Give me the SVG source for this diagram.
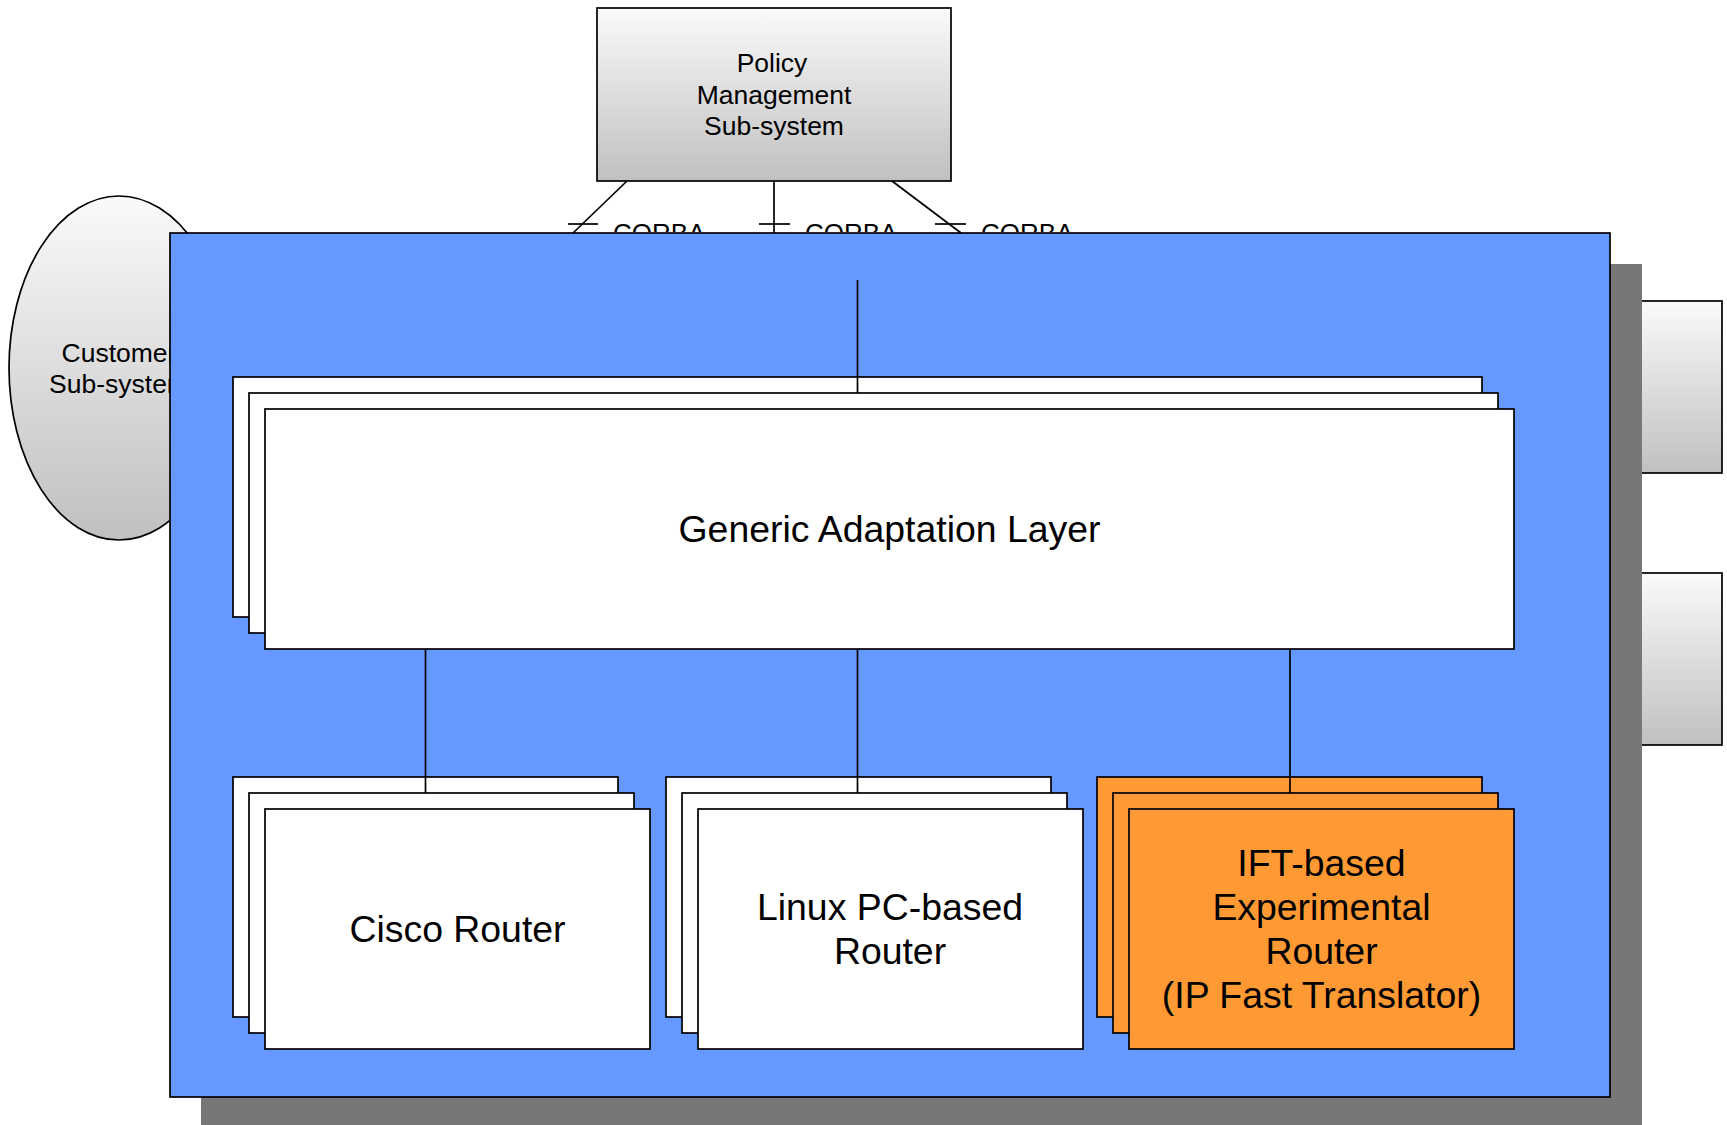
<svg xmlns="http://www.w3.org/2000/svg" width="1727" height="1125" viewBox="0 0 1727 1125">
  <defs>
    <linearGradient id="grey" x1="0" y1="0" x2="0" y2="1">
      <stop offset="0" stop-color="#FAFAFA"/>
      <stop offset="1" stop-color="#C0C0C0"/>
    </linearGradient>
    <clipPath id="aboveBlue">
      <rect x="0" y="0" width="1727" height="232"/>
    </clipPath>
    <style>
      .t { font-family: "Liberation Sans", Arial, sans-serif; fill: #000; text-anchor: middle; }
      .c { font-family: "Liberation Sans", Arial, sans-serif; fill: #000; font-size: 26px; }
      .s { font-size: 26.5px; }
      .l { font-size: 37.4px; }
      .ln { stroke: #000; stroke-width: 1.7; fill: none; }
      .gbox { fill: url(#grey); stroke: #000; stroke-width: 1.7; }
      .wbox { fill: #FFFFFF; stroke: #000; stroke-width: 1.7; }
      .obox { fill: #FF9933; stroke: #000; stroke-width: 1.7; }
    </style>
  </defs>
  <rect width="1727" height="1125" fill="#FFFFFF"/>

  <g id="customer">
    <ellipse class="gbox" cx="119" cy="368" rx="110" ry="172"/>
    <text class="t s" x="119" y="362">Customer</text>
    <text class="t s" x="119" y="393">Sub-system</text>
  </g>

  <g id="right-box-1">
    <rect class="gbox" x="1368" y="301" width="354" height="172"/>
  </g>
  <g id="right-box-2">
    <rect class="gbox" x="1368" y="573" width="354" height="172"/>
  </g>

  <g id="policy">
    <rect class="gbox" x="597" y="8" width="354" height="173"/>
    <text class="t s" x="772" y="72">Policy</text>
    <text class="t s" x="774" y="104">Management</text>
    <text class="t s" x="774" y="135">Sub-system</text>
  </g>

  <g id="system">
    <rect x="201" y="264" width="1441" height="870" fill="#777777"/>
    <rect x="170" y="233" width="1440" height="864" fill="#6699FF" stroke="#000" stroke-width="1.7"/>
  </g>

  <g id="gal">
    <rect class="wbox" x="233" y="377" width="1249" height="240"/>
    <rect class="wbox" x="249" y="393" width="1249" height="240"/>
    <rect class="wbox" x="265" y="409" width="1249" height="240"/>
    <text class="t l" x="889.5" y="542">Generic Adaptation Layer</text>
  </g>

  <g id="cisco">
    <rect class="wbox" x="233" y="777" width="385" height="240"/>
    <rect class="wbox" x="249" y="793" width="385" height="240"/>
    <rect class="wbox" x="265" y="809" width="385" height="240"/>
    <text class="t l" x="457.5" y="942">Cisco Router</text>
  </g>

  <g id="linux">
    <rect class="wbox" x="666" y="777" width="385" height="240"/>
    <rect class="wbox" x="682" y="793" width="385" height="240"/>
    <rect class="wbox" x="698" y="809" width="385" height="240"/>
    <text class="t l" x="890" y="920">Linux PC-based</text>
    <text class="t l" x="890" y="964">Router</text>
  </g>

  <g id="ift">
    <rect class="obox" x="1097" y="777" width="385" height="240"/>
    <rect class="obox" x="1113" y="793" width="385" height="240"/>
    <rect class="obox" x="1129" y="809" width="385" height="240"/>
    <text class="t l" x="1321.5" y="876">IFT-based</text>
    <text class="t l" x="1321.5" y="920">Experimental</text>
    <text class="t l" x="1321.5" y="964">Router</text>
    <text class="t l" x="1321.5" y="1008">(IP Fast Translator)</text>
  </g>

  <g id="connectors">
    <line class="ln" x1="627" y1="181" x2="573" y2="233"/>
    <line class="ln" x1="774" y1="181" x2="774" y2="233"/>
    <line class="ln" x1="892" y1="181" x2="961" y2="233"/>
    <line class="ln" x1="568" y1="224" x2="598" y2="224"/>
    <line class="ln" x1="759" y1="224" x2="790" y2="224"/>
    <line class="ln" x1="935" y1="224" x2="966" y2="224"/>
    <g clip-path="url(#aboveBlue)">
      <text class="c" x="613" y="242">CORBA</text>
      <text class="c" x="805" y="242">CORBA</text>
      <text class="c" x="981" y="242">CORBA</text>
    </g>
    <line class="ln" x1="857.5" y1="280" x2="857.5" y2="393"/>
    <line class="ln" x1="425.5" y1="649" x2="425.5" y2="793"/>
    <line class="ln" x1="857.5" y1="649" x2="857.5" y2="793"/>
    <line class="ln" x1="1290" y1="649" x2="1290" y2="793"/>
  </g>
</svg>
